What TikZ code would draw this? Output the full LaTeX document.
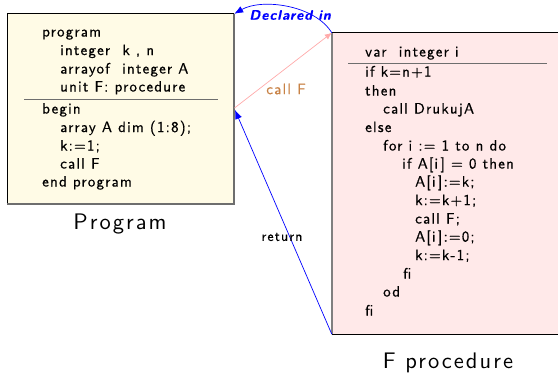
\documentclass[tikz,border=0pt]{standalone}
\usepackage{fontspec}
\usetikzlibrary{arrows.meta}
\newfontfamily\codefont{lmsans10-regular.otf}[LetterSpace=8,FakeBold=0.6,BoldFont=lmsans10-bold.otf,ItalicFont=lmsans10-oblique.otf,BoldItalicFont=lmsans10-boldoblique.otf]
\newfontfamily\titlefont{lmsans10-regular.otf}[LetterSpace=9]
\definecolor{progfill}{RGB}{255,251,230}
\definecolor{procfill}{RGB}{255,233,233}
\definecolor{callcol}{RGB}{200,130,70}
\definecolor{callarrow}{RGB}{255,170,170}
\definecolor{edgegray}{RGB}{110,110,110}
\tikzset{
  code/.style={anchor=west,inner sep=0pt,text height=10pt,text depth=3pt,font=\codefont\fontsize{15}{18}\selectfont},
  title/.style={inner sep=0pt,font=\titlefont\fontsize{22.5}{26}\selectfont},
  box/.style={inner sep=0pt,draw=none},
  tip/.style={-{Latex[length=9pt,width=7pt]}}
}
\begin{document}
\begin{tikzpicture}[x=1pt,y=-1pt]
\useasboundingbox (0,0) rectangle (558,373);
% boxes
\path[fill=progfill] (7.5,14) rectangle (234,204);
\node[box,minimum width=226.5pt,minimum height=190pt] (P) at (120.75,109) {};
\path[fill=procfill] (332,33) rectangle (562,334);
\node[box,minimum width=230pt,minimum height=301pt] (F) at (447,183.5) {};
% program box borders
\draw[black,line width=0.8pt] (P.south west) -- (P.north west) -- (P.north east);
\draw[edgegray,line width=1.5pt] (P.north east) -- (P.south east) -- (P.south west);
% F box borders
\draw[black,line width=1pt] (F.north west) -- (F.north east);
\draw[black,line width=1pt] (F.south west) -- (F.south east);
\draw[gray,line width=1.6pt] (F.north west) -- (F.south west);
% program text
\node[code] (p1) at (42,33) {program};
\node[code] (p2) at (60,51.5) {integer\ \ k , n};
\node[code] (p3) at (60,70) {arrayof\ \ integer A};
\node[code] (p4) at (60,88) {unit F: procedure};
\coordinate (r1a) at (24,99.5);
\coordinate (r1b) at (218,99.5);
\draw[edgegray,line width=0.8pt] (r1a) -- (r1b);
\node[code] (p5) at (42,110) {begin};
\node[code] (p6) at (60,128.5) {array A dim (1:8);};
\node[code] (p7) at (60,147) {k:=1;};
\node[code] (p8) at (60,165) {call F};
\node[code] (p9) at (42,183) {end program};
% procedure text
\node[code] (f1) at (365,53) {var\ \ integer i};
\coordinate (r2a) at (348,63);
\coordinate (r2b) at (547,63);
\draw[edgegray,line width=0.8pt] (r2a) -- (r2b);
\node[code] (f2) at (365,73) {if k=n+1};
\node[code] (f3) at (365,92) {then};
\node[code] (f4) at (383,110) {call DrukujA};
\node[code] (f5) at (365,128.5) {else};
\node[code] (f6) at (383,147) {for i := 1 to n do};
\node[code] (f7) at (402,165) {if A[i\,] = 0 then};
\node[code] (f8) at (415,183) {A[i\,]:=k;};
\node[code] (f9) at (415,201.5) {k:=k+1;};
\node[code] (f10) at (415,220) {call F;};
\node[code] (f11) at (415,238) {A[i\,]:=0;};
\node[code] (f12) at (415,256.5) {k:=k-1;};
\node[code] (f13) at (403,275) {fi};
\node[code] (f14) at (383,293) {od};
\node[code] (f15) at (365,312) {fi};
% titles
\node[title] (tP) at (120,224) {Program};
\node[title] (tF) at (448,363) {F procedure};
% connectors
\coordinate (Pcall) at (234.5,108);
\coordinate (Pret) at (235,110);
\draw[callarrow,line width=0.7pt,-{Latex[length=7pt,width=6pt]}] (Pcall) -- (F.north west);
\node[inner sep=0pt,text=callcol,font=\codefont\fontsize{15}{18}\selectfont] (lc) at (286,89) {call F};
\draw[blue,line width=0.7pt,tip] (F.south west) -- (Pret);
\node[inner sep=0pt,font=\codefont\fontsize{14}{16}\selectfont] (lr) at (282,237) {return};
\draw[blue,line width=0.7pt,tip] (F.north west) .. controls (315,5) and (262,-2) .. (P.north east);
\node[inner sep=0pt,text=blue,font=\codefont\bfseries\itshape\fontsize{13.8}{16}\selectfont] (ld) at (290,15) {Declared in};
\end{tikzpicture}
\end{document}
